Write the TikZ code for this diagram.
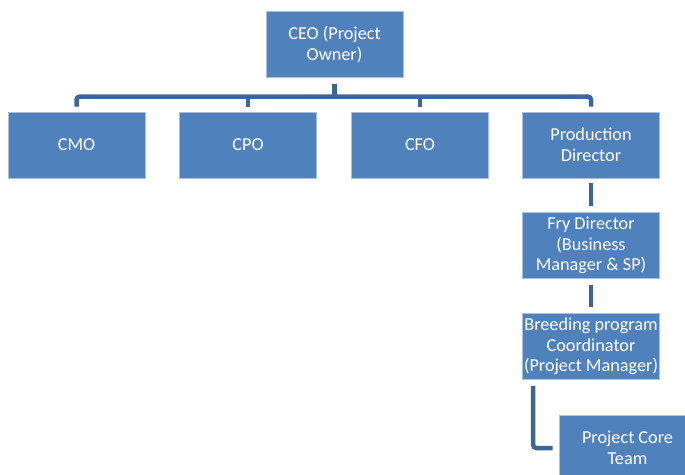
\documentclass[tikz,border=0pt]{standalone}
\usepackage{fontspec}
\setmainfont{Carlito}

\definecolor{boxblue}{HTML}{4F81BD}
\definecolor{linkblue}{HTML}{3C6696}
\definecolor{rimblue}{HTML}{A9C1DF}

\tikzset{
  orgbox/.style={rectangle, fill=boxblue, draw=rimblue, line width=0.6bp,
    minimum width=137bp, minimum height=66bp, inner xsep=0pt, inner ysep=2pt,
    align=center, text=white, font=\fontsize{18.3}{20.6}\selectfont},
  link/.style={draw=linkblue, line width=4.5bp, rounded corners=3bp}
}

\begin{document}
\begin{tikzpicture}[x=1bp,y=-1bp]
\useasboundingbox (0,0) rectangle (685,475);
\clip (0,0) rectangle (685,475);

% top
\node[orgbox] (ceo) at (334.5,44.5) {CEO (Project\\Owner)};

% second row
\node[orgbox] (cmo) at (76.5,145) {CMO};
\node[orgbox] (cpo) at (248,145) {CPO};
\node[orgbox] (cfo) at (420,145) {CFO};
\node[orgbox] (prod) at (591,145) {Production\\Director};

% production line
\node[orgbox] (fry) at (591,245.5) {Fry Director\\(Business\\Manager \& SP)};
\node[orgbox] (breed) at (591,346.5) {Breeding program\\Coordinator\\(Project Manager)};
\node[orgbox] (core) at (627.5,448) {Project Core\\Team};

% connectors
\draw[link] ([yshift=-6bp]ceo.south) -- ([yshift=15bp]ceo.south |- cmo.north);
\draw[link] ([yshift=5bp]cmo.north) |- ([yshift=15bp]prod.north) -- ([yshift=5bp]prod.north);
\draw[link] ([yshift=5bp]cpo.north) -- ([yshift=15bp]cpo.north);
\draw[link] ([yshift=5bp]cfo.north) -- ([yshift=15bp]cfo.north);
\draw[link] ([yshift=-5bp]prod.south) -- ([yshift=6bp]fry.north);
\draw[link] ([yshift=-6bp]fry.south) -- ([yshift=6bp]breed.north);
\draw[link] ([shift={(11bp,-6bp)}]breed.south west) |- ([xshift=-6bp]core.west);

\end{tikzpicture}
\end{document}
